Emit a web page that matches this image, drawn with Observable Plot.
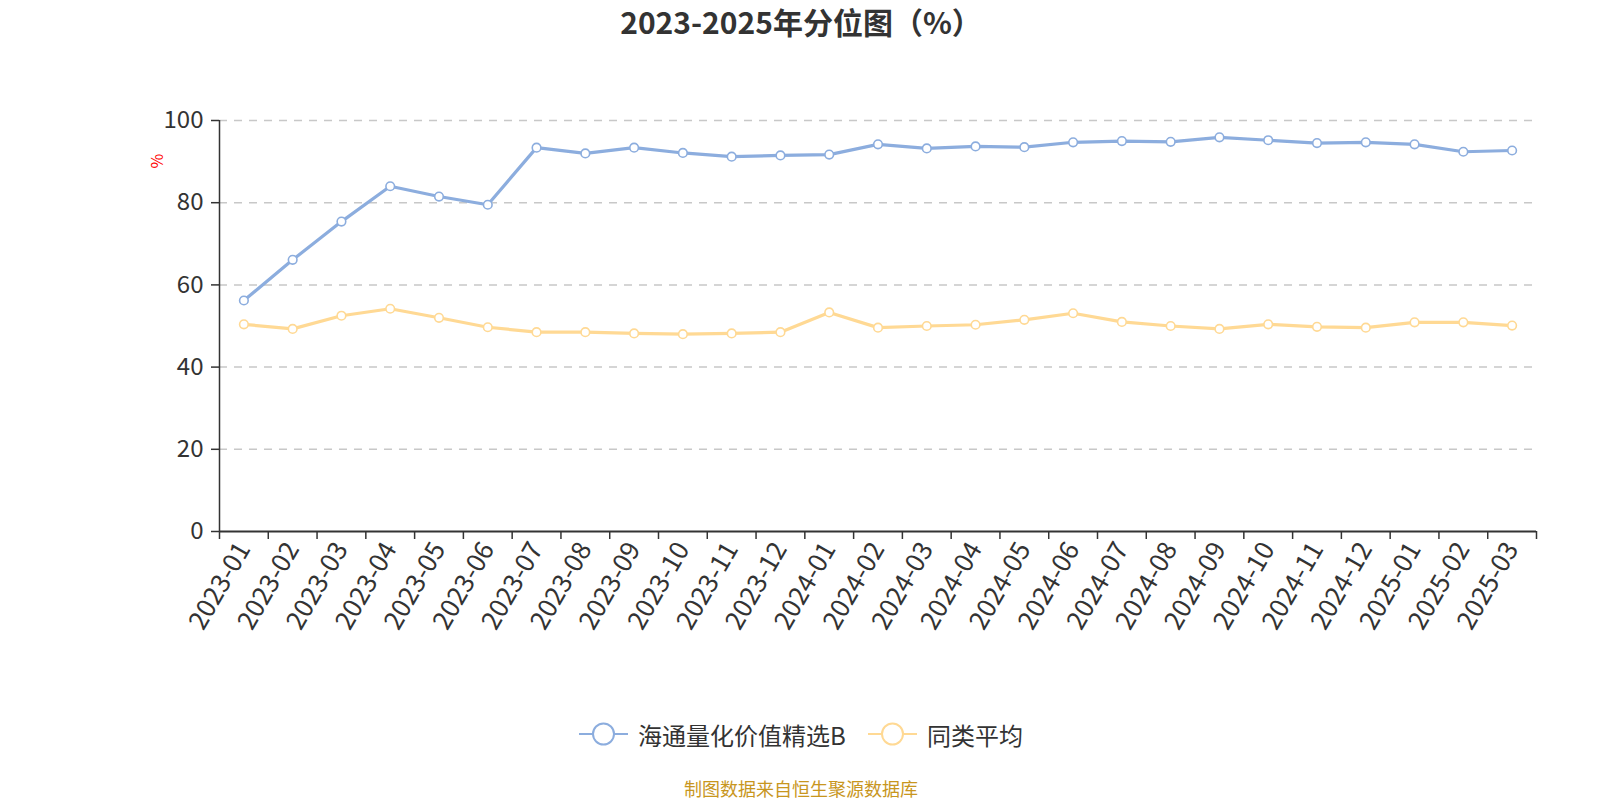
<!DOCTYPE html>
<html>
<head>
<meta charset="utf-8">
<script src="https://cdn.jsdelivr.net/npm/d3@7"></script>
<script src="https://cdn.jsdelivr.net/npm/@observablehq/plot@0.6"></script>
<style>
  html, body { margin: 0; padding: 0; background: #fff; font-family: "Noto Sans CJK SC", "Noto Sans", sans-serif; overflow: hidden; }
  #wrap { width: 1602px; position: relative; }
  #title { height: 52px; line-height: 42px; text-align: center; font-size: 30px; font-weight: bold; color: #333; }
  #chart svg { display: block; }
  #legend { height: 84px; display: flex; justify-content: center; align-items: center; gap: 22px; font-size: 24px; color: #333; }
  .item { display: flex; align-items: center; gap: 10px; }
  .item svg { display: block; }
  #caption { text-align: center; font-size: 18px; color: #c8961e; line-height: 24px; }
</style>
</head>
<body>
<div id="wrap">
  <div id="title">2023-2025年分位图（%）</div>
  <div id="chart"></div>
  <div id="legend"></div>
  <div id="caption">制图数据来自恒生聚源数据库</div>
</div>
<script>
const categories = ["2023-01","2023-02","2023-03","2023-04","2023-05","2023-06","2023-07","2023-08","2023-09","2023-10","2023-11","2023-12",
  "2024-01","2024-02","2024-03","2024-04","2024-05","2024-06","2024-07","2024-08","2024-09","2024-10","2024-11","2024-12",
  "2025-01","2025-02","2025-03"];
const fundValues = [56.2,66.1,75.4,84.0,81.5,79.5,93.4,92.0,93.4,92.1,91.2,91.5,
  91.7,94.2,93.2,93.7,93.5,94.7,95.0,94.8,95.9,95.2,94.5,94.7,
  94.2,92.4,92.7];
const peerValues = [50.4,49.3,52.5,54.2,52.0,49.7,48.5,48.5,48.2,48.0,48.2,48.5,
  53.3,49.6,50.0,50.3,51.5,53.1,51.0,50.0,49.3,50.4,49.8,49.6,
  50.9,50.9,50.1];
const seriesNames = ["海通量化价值精选B", "同类平均"];
const colors = ["#8cadde", "#ffd994"];
const yTicks = [0, 20, 40, 60, 80, 100];

const data = [];
categories.forEach((c, i) => {
  data.push({idx: i + 0.5, cat: c, value: fundValues[i], series: seriesNames[0]});
  data.push({idx: i + 0.5, cat: c, value: peerValues[i], series: seriesNames[1]});
});

const n = categories.length;
const chart = Plot.plot({
  width: 1602,
  height: 640,
  marginTop: 68,
  marginBottom: 161,
  marginLeft: 219,
  marginRight: 66,
  style: {fontFamily: '"Noto Sans CJK SC", "Noto Sans", sans-serif', background: "#fff"},
  x: {type: "linear", domain: [0, n]},
  y: {domain: [0, 100]},
  color: {domain: seriesNames, range: colors},
  marks: [
    Plot.gridY(yTicks.filter(d => d > 0), {stroke: "#c8c8c8", strokeOpacity: 1, strokeWidth: 1.5, strokeDasharray: "8,7"}),
    Plot.axisY(yTicks, {tickSize: 8, tickPadding: 8, fontSize: 24, fill: "#333", stroke: "#333", strokeWidth: 1.5, label: null}),
    Plot.ruleX([0], {y1: 0, y2: 100, stroke: "#333", strokeWidth: 1.5}),
    Plot.ruleY([0], {stroke: "#333", strokeWidth: 2}),
    Plot.axisX(d3.range(0, n + 1), {tickSize: 8, stroke: "#333", strokeWidth: 1.5, tickFormat: () => "", label: null}),
    Plot.axisX(d3.range(n).map(i => i + 0.5), {tickSize: 0, tickPadding: 13, tickRotate: -60, fontSize: 26, fill: "#333", tickFormat: d => categories[Math.floor(d)], label: null}),
    Plot.text(["%"], {frameAnchor: "top-left", dx: -68, dy: 48, rotate: -90, fill: "red", fontSize: 16}),
    Plot.line(data, {x: "idx", y: "value", z: "series", stroke: "series", strokeWidth: 3.2}),
    Plot.dot(data, {x: "idx", y: "value", stroke: "series", fill: "white", r: 4.3, strokeWidth: 1.6})
  ]
});
document.getElementById("chart").appendChild(chart);

const legend = document.getElementById("legend");
seriesNames.forEach((name, i) => {
  const item = document.createElement("div");
  item.className = "item";
  item.innerHTML = `<svg width="49" height="26"><line x1="0" y1="13" x2="49" y2="13" stroke="${colors[i]}" stroke-width="2"/><circle cx="24.5" cy="13" r="10.5" fill="white" stroke="${colors[i]}" stroke-width="2"/></svg><span>${name}</span>`;
  legend.appendChild(item);
});
</script>
</body>
</html>
